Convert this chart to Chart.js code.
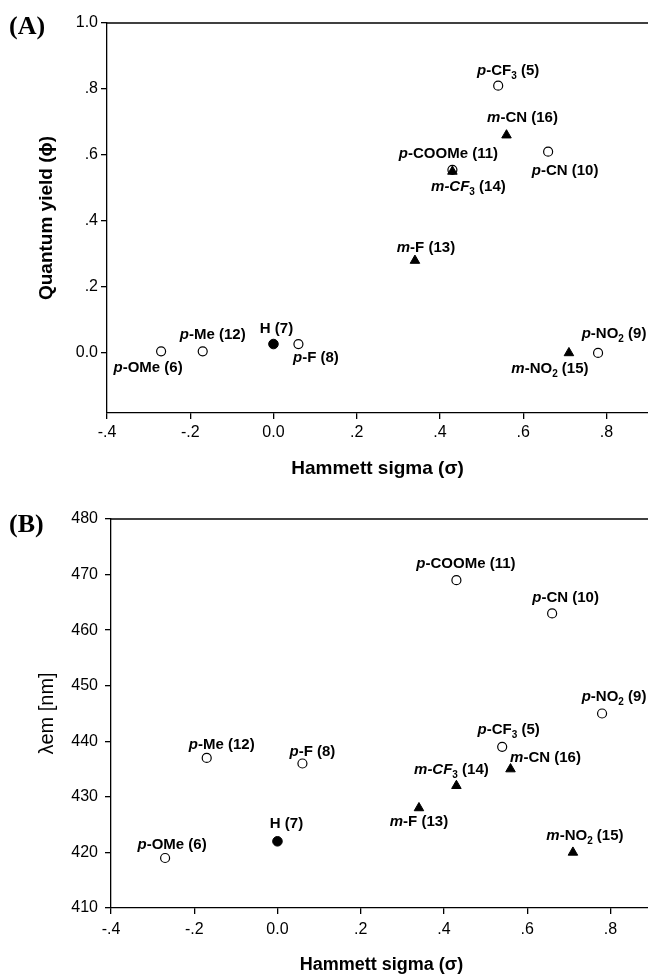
<!DOCTYPE html>
<html>
<head>
<meta charset="utf-8">
<script src="https://cdn.jsdelivr.net/npm/chart.js@4/dist/chart.umd.min.js"></script>
<style>
  html, body { margin: 0; padding: 0; background: #fff; }
  body { width: 648px; height: 977px; overflow: hidden; position: relative; }
  canvas { position: absolute; left: 0; }
  #cA { top: 0; }
  #cB { top: 482px; }
</style>
</head>
<body>
<canvas id="cA" width="660" height="482"></canvas>
<canvas id="cB" width="660" height="495"></canvas>
<script>
// ---------------- DATA ----------------
// para-substituted compounds (open circles)
const paraNames = ['{p}-OMe (6)', '{p}-Me (12)', '{p}-F (8)', '{p}-CF_3 (5)', '{p}-COOMe (11)', '{p}-CN (10)', '{p}-NO_2 (9)'];
const paraSigma = [-0.27, -0.17, 0.06, 0.54, 0.43, 0.66, 0.78];
const paraQY    = [0.005, 0.005, 0.027, 0.81, 0.555, 0.61, 0.0];
const paraLem   = [419, 437, 436, 439, 469, 463, 445];
// meta-substituted compounds (filled triangles)
const metaNames = ['{m}-F (13)', '{m-CF}_3 (14)', '{m}-CN (16)', '{m}-NO_2 (15)'];
const metaSigma = [0.34, 0.43, 0.56, 0.71];
const metaQY    = [0.28, 0.55, 0.66, 0.0];
const metaLem   = [428, 432, 435, 420];
// unsubstituted (filled circle)
const hNames = ['H (7)'];
const hSigma = [0];
const hQY    = [0.027];
const hLem   = [422];

// axis ticks
const xTickVals   = [-0.4, -0.2, 0, 0.2, 0.4, 0.6, 0.8];
const xTickLabels = ['-.4', '-.2', '0.0', '.2', '.4', '.6', '.8'];
const yTickValsA   = [0, 0.2, 0.4, 0.6, 0.8, 1.0];
const yTickLabelsA = ['0.0', '.2', '.4', '.6', '.8', '1.0'];
const yTickValsB   = [410, 420, 430, 440, 450, 460, 470, 480];
const yTickLabelsB = ['410', '420', '430', '440', '450', '460', '470', '480'];

// ---------------- LABEL OFFSETS (style, px) ----------------
const offA = {
  meta: [[11, -8.5], [16, 20], [16, -13], [-19, 20]],
  para: [[-13, 21], [10, -12], [17.5, 18], [10, -11], [-4, -12], [17, 23], [16, -15]],
  h:    [[3, -11]]
};
const offB = {
  meta: [[0, 18.5], [-5, -11.5], [35, -7.5], [12, -12.5]],
  para: [[7, -9], [15, -9], [10, -8], [6.5, -13], [9.5, -12], [13.5, -11], [12, -13]],
  h:    [[9, -13]]
};

const SANS = "'Liberation Sans', Arial, Helvetica, sans-serif";

function parseRich(s) {
  const segs = []; let buf = ''; let i = 0;
  while (i < s.length) {
    const c = s[i];
    if (c === '{') {
      if (buf) { segs.push({ t: buf }); buf = ''; }
      const j = s.indexOf('}', i);
      segs.push({ t: s.slice(i + 1, j), it: true });
      i = j + 1;
    } else if (c === '_') {
      if (buf) { segs.push({ t: buf }); buf = ''; }
      segs.push({ t: s[i + 1], sub: true });
      i += 2;
    } else { buf += c; i++; }
  }
  if (buf) segs.push({ t: buf });
  return segs;
}
function segFont(sg) {
  if (sg.sub) return 'bold 10px ' + SANS;
  return (sg.it ? 'italic ' : '') + 'bold 15px ' + SANS;
}
function drawRich(ctx, s, cx, by) {
  const segs = parseRich(s);
  let w = 0;
  segs.forEach(sg => { ctx.font = segFont(sg); sg.w = ctx.measureText(sg.t).width; w += sg.w; });
  let x = cx - w / 2;
  ctx.textAlign = 'left'; ctx.textBaseline = 'alphabetic'; ctx.fillStyle = '#000';
  segs.forEach(sg => {
    ctx.font = segFont(sg);
    ctx.fillText(sg.t, x, by + (sg.sub ? 4 : 0));
    x += sg.w;
  });
}

const pointLabels = {
  id: 'pointLabels',
  afterDatasetsDraw(chart, args, opts) {
    const ctx = chart.ctx;
    ctx.save();
    opts.groups.forEach(g => {
      const meta = chart.getDatasetMeta(g.ds);
      meta.data.forEach((el, k) => {
        const o = g.off[k];
        drawRich(ctx, g.names[k], el.x + o[0], el.y + o[1]);
      });
    });
    ctx.restore();
  }
};
const frameTop = {
  id: 'frameTop',
  afterDraw(chart, args, opts) {
    const ctx = chart.ctx, a = chart.chartArea;
    ctx.save();
    ctx.strokeStyle = '#000'; ctx.lineWidth = 1.3;
    ctx.beginPath(); ctx.moveTo(a.left, a.top); ctx.lineTo(a.right + 5, a.top); ctx.stroke();
    ctx.font = 'bold 26px "Liberation Serif", "Times New Roman", serif';
    ctx.fillStyle = '#000'; ctx.textAlign = 'left'; ctx.textBaseline = 'alphabetic';
    ctx.fillText(opts.panel, 9, opts.panelY);
    ctx.restore();
  }
};

function makeChart(id, cfg) {
  const ds = [
    { label: 'meta', data: metaSigma.map((x, i) => ({ x, y: cfg.metaY[i] })), pointStyle: 'triangle', pointRadius: 5.5, backgroundColor: '#000', borderColor: '#000', borderWidth: 1 },
    { label: 'para', data: paraSigma.map((x, i) => ({ x, y: cfg.paraY[i] })), pointStyle: 'circle', pointRadius: 4.5, backgroundColor: '#fff', borderColor: '#000', borderWidth: 1.2 },
    { label: 'H', data: hSigma.map((x, i) => ({ x, y: cfg.hY[i] })), pointStyle: 'circle', pointRadius: 4.8, backgroundColor: '#000', borderColor: '#000', borderWidth: 1 }
  ];
  ds[0].order = 1; ds[1].order = 2; ds[2].order = 0;
  return new Chart(document.getElementById(id), {
    type: 'scatter',
    data: { datasets: ds },
    plugins: [pointLabels, frameTop],
    options: {
      responsive: false, animation: false, devicePixelRatio: 1,
      layout: { padding: { top: cfg.padTop, right: cfg.padRight, left: 0, bottom: 0 } },
      plugins: {
        legend: { display: false }, tooltip: { enabled: false },
        pointLabels: { groups: [
          { ds: 0, names: metaNames, off: cfg.off.meta },
          { ds: 1, names: paraNames, off: cfg.off.para },
          { ds: 2, names: hNames, off: cfg.off.h }
        ] },
        frameTop: { panel: cfg.panel, panelY: cfg.panelY }
      },
      scales: {
        x: {
          type: 'linear', min: -0.4, max: 0.9,
          afterBuildTicks: s => { s.ticks = xTickVals.map(v => ({ value: v })); },
          afterFit: s => { s.height = cfg.xH; },
          ticks: { callback: (v, i) => xTickLabels[i], font: { family: SANS, size: 16 }, color: '#000', padding: cfg.xPad, maxRotation: 0, autoSkip: false },
          grid: { drawOnChartArea: false, drawTicks: true, tickLength: 6, color: '#000', lineWidth: 1.3 },
          border: { display: true, color: '#000', width: 1.3 },
          title: { display: true, text: 'Hammett sigma (σ)', color: '#000', font: { family: SANS, size: cfg.xTitleSize, weight: 'bold' }, padding: { top: 0, bottom: cfg.xTitlePad } }
        },
        y: {
          type: 'linear', min: cfg.yMin, max: cfg.yMax,
          afterBuildTicks: s => { s.ticks = cfg.yTicks.map(v => ({ value: v })); },
          afterFit: s => { s.width = cfg.yW; },
          ticks: { callback: (v, i) => cfg.yLabels[i], font: { family: SANS, size: 16 }, color: '#000', padding: cfg.yPad, autoSkip: false },
          grid: { drawOnChartArea: false, drawTicks: true, tickLength: 6, color: '#000', lineWidth: 1.3 },
          border: { display: true, color: '#000', width: 1.3 },
          title: { display: true, text: cfg.yTitle, color: '#000', font: { family: SANS, size: cfg.yTitleSize, weight: cfg.yTitleWeight }, padding: { top: cfg.yTitlePad, bottom: 0 } }
        }
      }
    }
  });
}

makeChart('cA', {
  metaY: metaQY, paraY: paraQY, hY: hQY, off: offA,
  padTop: 23, padRight: 12, xH: 69, yW: 107,
  yMin: -0.182, yMax: 1.0, yTicks: yTickValsA, yLabels: yTickLabelsA,
  xPad: 4, yPad: 3, xTitleSize: 19, xTitlePad: 2,
  yTitle: 'Quantum yield (ϕ)', yTitleSize: 19, yTitleWeight: 'bold', yTitlePad: 35,
  panel: '(A)', panelY: 34
});
makeChart('cB', {
  metaY: metaLem, paraY: paraLem, hY: hLem, off: offB,
  padTop: 37, padRight: 8, xH: 69, yW: 111,
  yMin: 410, yMax: 480, yTicks: yTickValsB, yLabels: yTickLabelsB,
  xPad: 6, yPad: 7, xTitleSize: 18, xTitlePad: 1.5,
  yTitle: 'λem [nm]', yTitleSize: 20, yTitleWeight: 'normal', yTitlePad: 35,
  panel: '(B)', panelY: 50
});
</script>
</body>
</html>
